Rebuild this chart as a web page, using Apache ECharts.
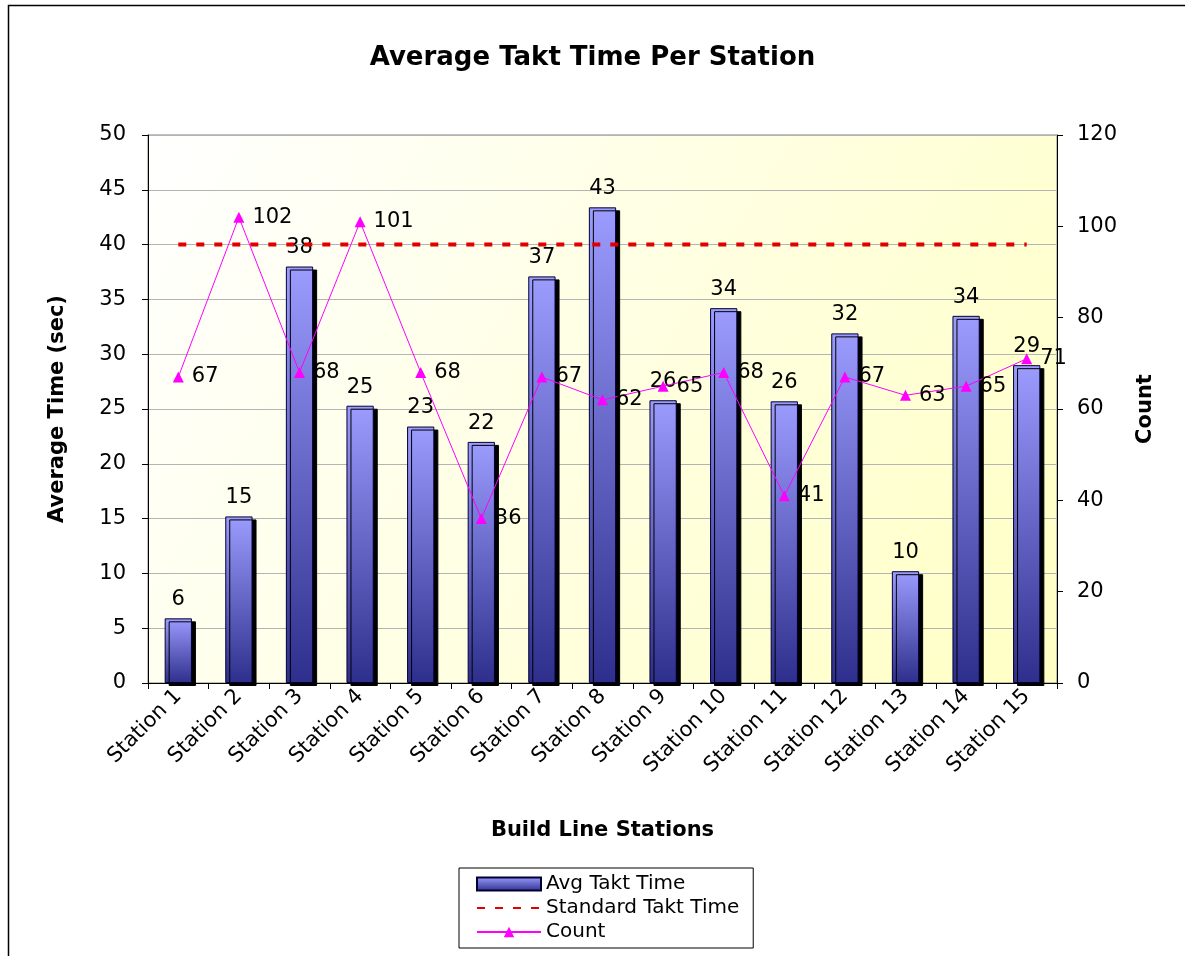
<!DOCTYPE html>
<html>
<head>
<meta charset="utf-8">
<script src="https://cdn.jsdelivr.net/npm/echarts@6/dist/echarts.min.js"></script>
<style>
html,body{margin:0;padding:0;background:#fff;}
#chart{width:1185px;height:956px;}
</style>
</head>
<body>
<div id="chart"></div>
<script>
const categories = ['Station 1','Station 2','Station 3','Station 4','Station 5','Station 6','Station 7','Station 8','Station 9','Station 10','Station 11','Station 12','Station 13','Station 14','Station 15'];
const avgTaktTime = [5.9, 15.2, 38.0, 25.3, 23.4, 22.0, 37.1, 43.4, 25.8, 34.2, 25.7, 31.9, 10.2, 33.5, 29.0];
const standardTaktTime = [40, 40, 40, 40, 40, 40, 40, 40, 40, 40, 40, 40, 40, 40, 40];
const countValues = [67, 102, 68, 101, 68, 36, 67, 62, 65, 68, 41, 67, 63, 65, 71];
const leftTicks = {min: 0, max: 50, interval: 5};
const rightTicks = {min: 0, max: 120, interval: 20};

const FONT = '"DejaVu Sans", Verdana, sans-serif';
const chart = echarts.init(document.getElementById('chart'));
chart.setOption({
  backgroundColor: '#fff',
  animation: false,
  textStyle: {fontFamily: FONT},
  title: {
    text: 'Average Takt Time Per Station',
    left: 'center', top: 40,
    textStyle: {fontSize: 26, fontWeight: 'bold', color: '#000', fontFamily: FONT}
  },
  graphic: [{
    type: 'rect', z: -10, silent: true,
    shape: {x: 8.5, y: 5.5, width: 1300, height: 1100},
    style: {fill: 'none', stroke: '#000', lineWidth: 1.5}
  }],
  legend: {
    orient: 'vertical', left: 459, top: 868,
    backgroundColor: '#fff', borderColor: '#000', borderWidth: 1,
    padding: [6, 14, 6, 17],
    itemWidth: 64, itemHeight: 13, itemGap: 4,
    textStyle: {fontSize: 20, color: '#000', fontFamily: FONT},
    data: [
      {name: 'Avg Takt Time', icon: 'rect'},
      {name: 'Standard Takt Time', itemStyle: {opacity: 0}},
      {name: 'Count'}
    ]
  },
  grid: {
    left: 148, right: 128, top: 135, bottom: 273,
    show: true,
    borderColor: '#808080', borderWidth: 1,
    backgroundColor: new echarts.graphic.LinearGradient(0, 0, 1, 1, [
      {offset: 0, color: '#ffffff'},
      {offset: 1, color: '#ffffc4'}
    ])
  },
  xAxis: {
    type: 'category', data: categories, boundaryGap: true,
    name: 'Build Line Stations', nameLocation: 'middle', nameGap: 137,
    nameTextStyle: {fontSize: 21, fontWeight: 'bold', color: '#000', fontFamily: FONT},
    axisLine: {lineStyle: {color: '#000', width: 1}},
    axisTick: {show: true, alignWithLabel: false, length: 6, lineStyle: {color: '#000'}},
    axisLabel: {rotate: 45, fontSize: 21, color: '#000', margin: 10, interval: 0, fontFamily: FONT}
  },
  yAxis: [{
    type: 'value', min: leftTicks.min, max: leftTicks.max, interval: leftTicks.interval,
    name: 'Average Time (sec)', nameLocation: 'middle', nameGap: 80,
    nameTextStyle: {fontSize: 21, fontWeight: 'bold', color: '#000', fontFamily: FONT},
    axisLine: {show: true, lineStyle: {color: '#000'}},
    axisTick: {show: true, length: 6, lineStyle: {color: '#000'}},
    axisLabel: {fontSize: 21, color: '#000', margin: 22, fontFamily: FONT},
    splitLine: {show: true, lineStyle: {color: '#b4b4b4', width: 1}}
  }, {
    type: 'value', min: rightTicks.min, max: rightTicks.max, interval: rightTicks.interval,
    name: 'Count', nameLocation: 'middle', nameGap: 78,
    nameTextStyle: {fontSize: 21, fontWeight: 'bold', color: '#000', fontFamily: FONT},
    axisLine: {show: true, lineStyle: {color: '#000'}},
    axisTick: {show: true, length: 6, lineStyle: {color: '#000'}},
    axisLabel: {fontSize: 21, color: '#000', margin: 20, fontFamily: FONT},
    splitLine: {show: false}
  }],
  series: [{
    name: 'Avg Takt Time', type: 'bar', data: avgTaktTime, barWidth: '45%',
    itemStyle: {
      color: new echarts.graphic.LinearGradient(0, 0, 0, 1, [
        {offset: 0, color: '#9c9cff'},
        {offset: 1, color: '#2e2e8c'}
      ]),
      borderColor: '#000033', borderWidth: 1,
      shadowColor: '#000', shadowOffsetX: 4, shadowOffsetY: 3, shadowBlur: 0
    },
    label: {
      show: true, position: 'top', distance: 8, fontSize: 21, color: '#000', fontFamily: FONT,
      formatter: p => Math.round(p.value)
    },
    z: 2
  }, {
    name: 'Standard Takt Time', type: 'line', data: standardTaktTime,
    symbol: 'none',
    lineStyle: {color: '#e00000', width: 4, type: [8, 10]},
    itemStyle: {color: '#e00000'},
    z: 3
  }, {
    name: 'Count', type: 'line', yAxisIndex: 1, data: countValues,
    symbol: 'triangle', symbolSize: 11,
    lineStyle: {color: '#ff00ff', width: 1},
    itemStyle: {color: '#ff00ff'},
    label: {show: true, position: 'right', distance: 8, fontSize: 21, color: '#000', fontFamily: FONT},
    z: 4
  }]
});
</script>
</body>
</html>
